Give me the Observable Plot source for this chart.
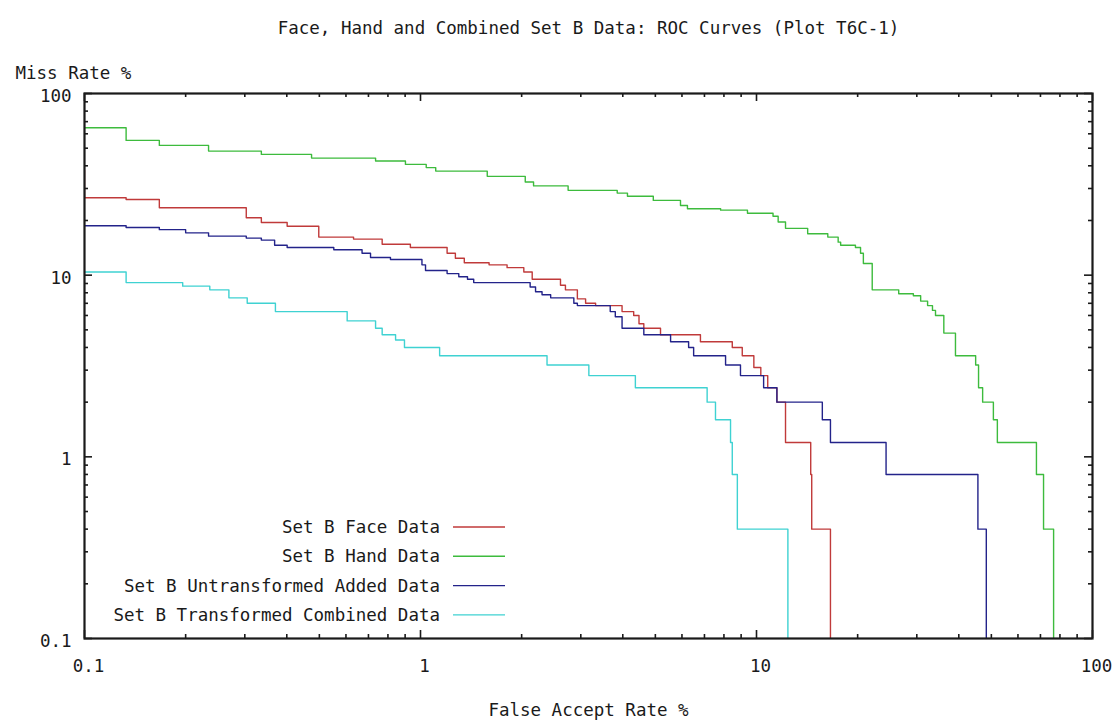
<!DOCTYPE html>
<html>
<head>
<meta charset="utf-8">
<script src="https://cdn.jsdelivr.net/npm/d3@7"></script>
<script src="https://cdn.jsdelivr.net/npm/@observablehq/plot@0.6"></script>
<style>
  html, body { margin: 0; padding: 0; background: #fff; }
  #chart svg { display: block; }
</style>
</head>
<body>
<div id="chart"></div>
<script>
// ROC step curves: false accept rate (%) vs miss rate (%), log–log axes.
const seriesNames = [
  "Set B Face Data",
  "Set B Hand Data",
  "Set B Untransformed Added Data",
  "Set B Transformed Combined Data"
];
const seriesColors = ["#c03a3a", "#3dbb3d", "#23238a", "#3fd2d2"];

// Set B Face Data
const faceFA   = [0.1, 0.1, 0.133, 0.167, 0.303, 0.336, 0.401, 0.498, 0.632, 0.769, 0.933, 1.20, 1.27, 1.35, 1.60, 1.81, 2.03, 2.15, 2.61, 2.70, 2.93, 3.10, 3.32, 3.98, 4.31, 4.47, 4.62, 5.18, 6.81, 8.47, 9.07, 9.82, 10.3, 10.8, 11.5, 12.2, 14.5, 14.6, 16.6];
const faceMiss = [37.8, 26.7, 26.1, 23.5, 20.7, 19.5, 18.6, 16.2, 15.8, 14.8, 14.2, 13.2, 12.4, 11.7, 11.4, 11.0, 10.4, 9.5, 8.8, 8.3, 7.4, 7.0, 6.8, 6.3, 6.0, 5.4, 5.1, 4.7, 4.3, 4.0, 3.6, 3.1, 2.8, 2.4, 2.0, 1.2, 0.8, 0.4, 0.1];

// Set B Hand Data
const handFA   = [0.1, 0.133, 0.167, 0.234, 0.336, 0.474, 0.735, 0.902, 1.04, 1.11, 1.58, 2.05, 2.17, 2.75, 3.85, 4.13, 4.93, 5.94, 6.23, 7.82, 9.40, 11.2, 11.6, 12.2, 14.2, 16.3, 17.5, 17.8, 19.7, 20.4, 20.8, 22.1, 26.5, 29.3, 30.8, 32.3, 33.4, 34.1, 36.1, 39.1, 44.9, 45.8, 47.1, 50.7, 52.1, 68.1, 71.5, 76.6];
const handMiss = [64.8, 55.2, 51.8, 48.2, 46.2, 44.1, 42.5, 40.7, 39.1, 37.4, 35.0, 32.6, 31.0, 29.3, 28.3, 27.2, 25.8, 24.2, 23.2, 22.8, 21.9, 21.1, 19.6, 18.1, 16.9, 16.2, 15.2, 14.6, 14.2, 13.2, 11.6, 8.3, 7.9, 7.7, 7.2, 6.8, 6.4, 6.0, 4.8, 3.6, 3.2, 2.4, 2.0, 1.6, 1.2, 0.8, 0.4, 0.1];

// Set B Untransformed Added Data
const addedFA   = [0.1, 0.133, 0.167, 0.200, 0.234, 0.303, 0.336, 0.368, 0.401, 0.552, 0.670, 0.710, 0.814, 1.01, 1.035, 1.20, 1.30, 1.38, 1.44, 2.12, 2.20, 2.30, 2.44, 2.86, 2.93, 3.67, 3.80, 3.98, 4.62, 5.55, 6.28, 6.50, 8.09, 8.96, 10.5, 11.5, 15.7, 16.6, 24.3, 45.6, 48.3];
const addedMiss = [18.7, 18.3, 17.8, 17.1, 16.4, 16.0, 15.6, 14.6, 14.2, 13.8, 13.2, 12.5, 12.2, 11.4, 10.6, 10.2, 9.8, 9.5, 9.1, 8.6, 8.1, 7.8, 7.5, 7.0, 6.8, 6.3, 5.9, 5.1, 4.7, 4.3, 4.0, 3.6, 3.2, 2.8, 2.4, 2.0, 1.6, 1.2, 0.8, 0.4, 0.1];

// Set B Transformed Combined Data
const combFA   = [0.1, 0.133, 0.196, 0.236, 0.269, 0.305, 0.370, 0.605, 0.735, 0.769, 0.843, 0.896, 1.14, 2.38, 3.17, 4.36, 7.13, 7.55, 8.37, 8.47, 8.77, 12.4];
const combMiss = [10.4, 9.1, 8.7, 8.3, 7.5, 7.0, 6.3, 5.6, 5.1, 4.7, 4.4, 4.0, 3.6, 3.2, 2.8, 2.4, 2.0, 1.6, 1.2, 0.8, 0.4, 0.1];

// Axis ticks (decades labelled, 2–9 minor ticks between)
const xTicks = [0.1, 1, 10, 100];
const yTicks = [0.1, 1, 10, 100];
const xTickLabels = ["0.1", "1", "10", "100"];
const yTickLabels = ["0.1", "1", "10", "100"];

const title = "Face, Hand and Combined Set B Data: ROC Curves (Plot T6C-1)";
const xLabel = "False Accept Rate %";
const yLabel = "Miss Rate %";

const toRows = (name, fa, miss) => fa.map((x, i) => ({series: name, fa: x, miss: miss[i]}));
const rows = [
  ...toRows(seriesNames[0], faceFA, faceMiss),
  ...toRows(seriesNames[1], handFA, handMiss),
  ...toRows(seriesNames[2], addedFA, addedMiss),
  ...toRows(seriesNames[3], combFA, combMiss)
];

const minorOf = (majors) => majors.slice(0, -1).flatMap(m => [2, 3, 4, 5, 6, 7, 8, 9].map(k => +(m * k).toPrecision(3)));
const xMinor = minorOf(xTicks);
const yMinor = minorOf(yTicks);

const W = 1115, H = 723;
const mTop = 93, mBottom = 85, mLeft = 84, mRight = 23;
const frameH = H - mTop - mBottom;
const frameW = W - mLeft - mRight;
const FONT = "'DejaVu Sans Mono', 'Liberation Mono', monospace";
const FS = 17.5;
const ink = "#1a1a1a";

const chart = Plot.plot({
  width: W,
  height: H,
  marginTop: mTop,
  marginBottom: mBottom,
  marginLeft: mLeft,
  marginRight: mRight,
  style: {background: "#fff", fontFamily: FONT},
  x: {type: "log", domain: [0.1, 100], axis: null},
  y: {type: "log", domain: [0.1, 100], axis: null},
  color: {domain: seriesNames, range: seriesColors},
  marks: [
    // curves
    Plot.line(rows, {
      x: "fa", y: "miss", z: "series", stroke: "series",
      curve: "step-after", strokeWidth: 1.4, clip: true
    }),
    // inward ticks on all four sides
    Plot.ruleX(xMinor, {x: d => d, insetTop: frameH - 4, stroke: ink, strokeWidth: 1.6}),
    Plot.ruleX(xMinor, {x: d => d, insetBottom: frameH - 4, stroke: ink, strokeWidth: 1.6}),
    Plot.ruleX(xTicks, {x: d => d, insetTop: frameH - 8, stroke: ink, strokeWidth: 1.6}),
    Plot.ruleX(xTicks, {x: d => d, insetBottom: frameH - 8, stroke: ink, strokeWidth: 1.6}),
    Plot.ruleY(yMinor, {y: d => d, insetRight: frameW - 4, stroke: ink, strokeWidth: 1.6}),
    Plot.ruleY(yMinor, {y: d => d, insetLeft: frameW - 4, stroke: ink, strokeWidth: 1.6}),
    Plot.ruleY(yTicks, {y: d => d, insetRight: frameW - 8, stroke: ink, strokeWidth: 1.6}),
    Plot.ruleY(yTicks, {y: d => d, insetLeft: frameW - 8, stroke: ink, strokeWidth: 1.6}),
    Plot.frame({stroke: ink, strokeWidth: 2.2}),
    // tick labels
    Plot.text(xTicks, {x: d => d, text: (d, i) => xTickLabels[i], frameAnchor: "bottom", dy: 33, dx: 4, fontSize: FS, fill: ink}),
    Plot.text(yTicks, {y: d => d, text: (d, i) => yTickLabels[i], frameAnchor: "left", textAnchor: "end", dx: -13, dy: 3, fontSize: FS, fill: ink}),
    // title and axis titles
    Plot.text([title], {text: d => d, frameAnchor: "top", dy: -72, fontSize: FS, fill: ink}),
    Plot.text([yLabel], {text: d => d, frameAnchor: "top-left", textAnchor: "start", dx: -69, dy: -27, fontSize: FS, fill: ink}),
    Plot.text([xLabel], {text: d => d, frameAnchor: "bottom", dy: 77, fontSize: FS, fill: ink})
  ]
});

document.getElementById("chart").append(chart);

// key: labels right-aligned, followed by a short line sample
const svg = d3.select(chart);
const key = svg.append("g").attr("font-family", FONT).attr("font-size", FS);
const keyRight = 440, keyTop = 527, keyStep = 29.3;
seriesNames.forEach((name, i) => {
  const y = keyTop + i * keyStep;
  key.append("text")
    .attr("x", keyRight).attr("y", y).attr("dy", "0.35em")
    .attr("text-anchor", "end").attr("fill", ink).text(name);
  key.append("line")
    .attr("x1", keyRight + 13).attr("x2", keyRight + 65)
    .attr("y1", y).attr("y2", y)
    .attr("stroke", seriesColors[i]).attr("stroke-width", 1.4);
});
</script>
</body>
</html>
